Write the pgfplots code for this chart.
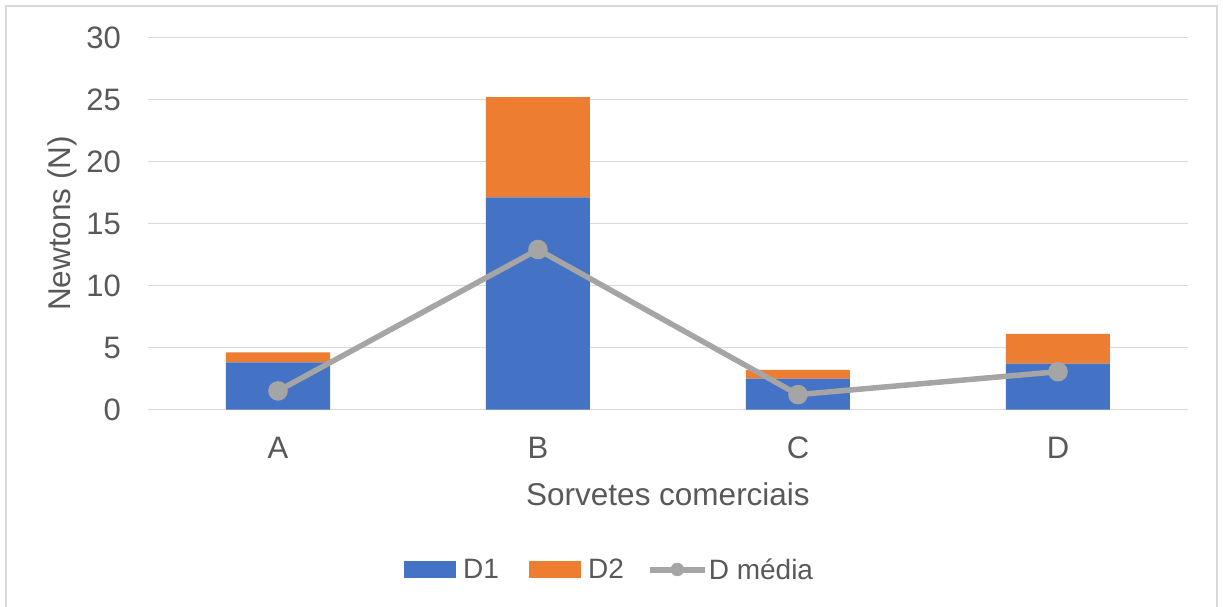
\documentclass[border=0pt]{standalone}
\usepackage{pgfplots}
\pgfplotsset{compat=1.18}
\usepackage{fontspec}
\setmainfont{Liberation Sans}

\definecolor{txt}{HTML}{595959}
\definecolor{grd}{HTML}{D9D9D9}
\definecolor{dblue}{HTML}{4472C4}
\definecolor{dorange}{HTML}{ED7D31}
\definecolor{dgray}{HTML}{A5A5A5}

\pgfplotsset{
  frameaxis/.style={
    at={(148pt,196.5pt)}, anchor=south west,
    scale only axis, width=1040pt, height=372pt,
    xmin=-0.5, xmax=3.5, ymin=0, ymax=30,
  }
}

\begin{document}
\begin{tikzpicture}[x=1pt,y=1pt]
\path[use as bounding box] (0,0) rectangle (1223,606);
\fill[white] (0,0) rectangle (1223,606);
\draw[grd, line width=1.3pt] (6,-3) -- (6,600) -- (1217,600) -- (1217,-3);

% stacked bars
\begin{axis}[
  frameaxis,
  ybar stacked, bar width=104pt,
  ytick={0,5,...,30}, xtick={0,1,2,3}, xticklabels={A,B,C,D},
  ymajorgrids, grid style={grd, line width=1.3pt},
  axis line style={draw=none}, major tick length=0pt,
  tick label style={font=\fontsize{31}{37}\selectfont, text=txt},
  yticklabel style={inner sep=0pt, xshift=-27pt},
  xticklabel style={inner sep=0pt, anchor=north, yshift=-27.5pt},
  /pgf/number format/assume math mode=true,
  legend columns=3,
  legend style={draw=none, fill=none, inner sep=0pt,
    at={(0.2462,-0.4301)}, anchor=west,
    font=\fontsize{28}{34}\selectfont, text=txt,
    nodes={inner sep=0pt},
    /tikz/every odd column/.append style={column sep=7pt},
    /tikz/every even column/.append style={column sep=30pt}},
]
\addplot[fill=dblue, draw=none,
  legend image code/.code={\fill[dblue] (0pt,-8.5pt) rectangle (52pt,8.5pt);}]
  coordinates {(0,3.8) (1,17.1) (2,2.5) (3,3.7)};
\addlegendentry{D1}
\addplot[fill=dorange, draw=none,
  legend image code/.code={\fill[dorange] (0pt,-8.5pt) rectangle (52pt,8.5pt);}]
  coordinates {(0,0.8) (1,8.1) (2,0.7) (3,2.4)};
\addlegendentry{D2}
\addlegendimage{legend image code/.code={%
  \path[draw=none, fill=none] (0pt,-7pt) rectangle (48pt,7pt);
  \draw[overlay, dgray, line width=6pt] (-4pt,0pt) -- (51pt,0pt);
  \fill[overlay, dgray] (23.5pt,0pt) circle (6.5pt);}}
\addlegendentry{D média}
\end{axis}

% mean line
\begin{axis}[frameaxis, axis lines=none, ticks=none, clip=false]
\addplot[dgray, line width=5.5pt, mark=*, mark size=7pt,
  mark options={fill=dgray, draw=none}]
  coordinates {(0,1.5) (1,12.9) (2,1.2) (3,3.05)};
\end{axis}

\node[anchor=base, font=\fontsize{31.5}{38}\selectfont, text=txt] at (668,101) {Sorvetes comerciais};
\node[anchor=base, rotate=90, font=\fontsize{31.5}{38}\selectfont, text=txt] at (70,382.6) {Newtons (N)};
\end{tikzpicture}
\end{document}
